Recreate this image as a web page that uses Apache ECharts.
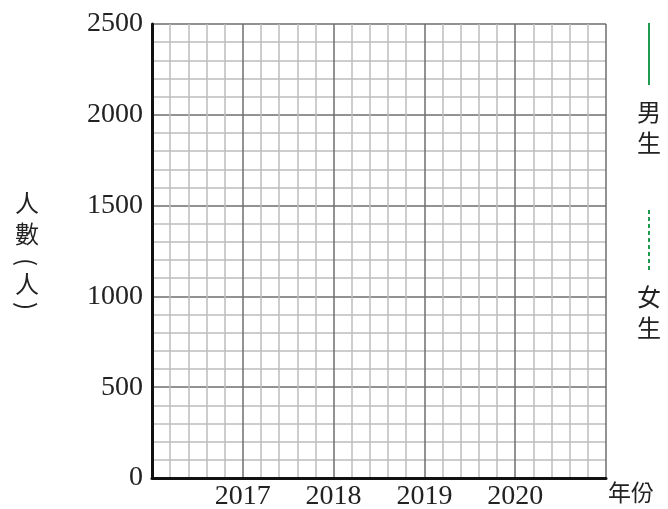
<!DOCTYPE html>
<html>
<head>
    <meta charset="utf-8">
    <title>人數統計</title>
    <script src="https://cdn.jsdelivr.net/npm/echarts@6/dist/echarts.min.js"></script>
    <style>
        html, body { margin: 0; padding: 0; background: #fff; }
        #chart1 { width: 668px; height: 509px; }
    </style>
</head>
<body>
<div id="chart1"></div>
<script type="text/javascript">
    // 資料
    var years = [2017, 2018, 2019, 2020];
    var xRange = [2016, 2021];
    var yTicks = [0, 500, 1000, 1500, 2000, 2500];
    var legendNames = ['男生', '女生'];
    var boys = [];
    var girls = [];

    var serif = '"Liberation Serif", "DejaVu Serif", serif';
    var cjk = '"Noto Sans CJK TC", "Noto Sans CJK SC", sans-serif';
    var green = '#1f9a4e';

    var myChart1 = echarts.init(document.getElementById('chart1'));

    // 縱軸標題 人數(人)，括號轉向
    function ch(text, y, rot) {
        return {
            type: 'text', x: 27, y: y, rotation: rot || 0,
            style: { text: text, fontFamily: cjk, fontSize: 24, fill: '#222', align: 'center', verticalAlign: 'middle' }
        };
    }

    myChart1.setOption({
        animation: false,
        backgroundColor: '#fff',
        grid: { left: 152, top: 24, width: 454, height: 454, outerBoundsMode: 'none', containLabel: false },
        xAxis: {
            type: 'value',
            min: xRange[0],
            max: xRange[1],
            interval: 1,
            axisLine: { show: true, onZero: false, lineStyle: { color: '#111', width: 3 } },
            axisTick: { show: false },
            minorTick: { show: false, splitNumber: 5 },
            axisLabel: {
                margin: 5,
                color: '#222',
                fontFamily: serif,
                fontSize: 28,
                formatter: function (v) {
                    return years.indexOf(v) >= 0 ? String(v) : '';
                }
            },
            splitLine: { show: true, lineStyle: { color: '#6e6e6e', width: 1.5 } },
            minorSplitLine: { show: true, lineStyle: { color: '#bdbdbd', width: 1.5 } }
        },
        yAxis: {
            type: 'value',
            min: yTicks[0],
            max: yTicks[yTicks.length - 1],
            interval: 500,
            axisLine: { show: true, onZero: false, lineStyle: { color: '#111', width: 3 } },
            axisTick: { show: false },
            minorTick: { show: false, splitNumber: 5 },
            axisLabel: {
                margin: 9,
                color: '#222',
                fontFamily: serif,
                fontSize: 28,
                padding: [12, 0, 0, 0],
                formatter: function (v) { return String(v); }
            },
            splitLine: { show: true, lineStyle: { color: '#6e6e6e', width: 1.5 } },
            minorSplitLine: { show: true, lineStyle: { color: '#bdbdbd', width: 1.5 } }
        },
        series: [
            { name: legendNames[0], type: 'line', data: boys, lineStyle: { color: green } },
            { name: legendNames[1], type: 'line', data: girls, lineStyle: { color: green, type: 'dotted' } }
        ],
        graphic: [
            ch('人', 203),
            ch('數', 234),
            ch('(', 262, -Math.PI / 2),
            ch('人', 284),
            ch(')', 306, -Math.PI / 2),
            {
                type: 'text', left: 608, top: 481,
                style: { text: '年份', fontFamily: cjk, fontSize: 23, fill: '#222' }
            },
            {
                type: 'line', shape: { x1: 649, y1: 23, x2: 649, y2: 85 },
                style: { stroke: green, lineWidth: 2 }
            },
            {
                type: 'text', left: 637, top: 96,
                style: { text: '男\n生', fontFamily: cjk, fontSize: 24, lineHeight: 31, fill: '#222' }
            },
            {
                type: 'line', shape: { x1: 649, y1: 210, x2: 649, y2: 270 },
                style: { stroke: green, lineWidth: 2, lineDash: [4, 3] }
            },
            {
                type: 'text', left: 637, top: 281,
                style: { text: '女\n生', fontFamily: cjk, fontSize: 24, lineHeight: 31, fill: '#222' }
            }
        ]
    });
</script>
</body>
</html>
